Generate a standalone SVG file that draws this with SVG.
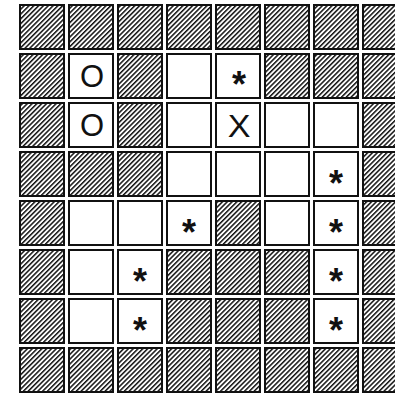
<svg xmlns="http://www.w3.org/2000/svg" width="395" height="395" viewBox="0 0 395 395">
<defs>
<pattern id="hatch" patternUnits="userSpaceOnUse" width="3.4" height="10" patternTransform="rotate(45)">
<rect width="3.4" height="10" fill="#fff"/>
<rect width="1.5" height="10" fill="#111"/>
</pattern>
</defs>
<style>
.h{fill:url(#hatch);stroke:#111;stroke-width:2}
.w{fill:#fff;stroke:#111;stroke-width:2}
.t{font-family:"Liberation Sans",Arial,sans-serif;font-size:31px;fill:#111;text-anchor:middle}
.s{font-family:"Liberation Sans",Arial,sans-serif;font-size:36px;font-weight:bold;fill:#111;text-anchor:middle}
</style>
<rect width="395" height="395" fill="#fff"/>
<g id="row0">
<rect class="h" x="20" y="5" width="44" height="44"/><rect class="h" x="69" y="5" width="44" height="44"/><rect class="h" x="118" y="5" width="44" height="44"/><rect class="h" x="167" y="5" width="44" height="44"/><rect class="h" x="216" y="5" width="44" height="44"/><rect class="h" x="265" y="5" width="44" height="44"/><rect class="h" x="314" y="5" width="44" height="44"/><rect class="h" x="363" y="5" width="44" height="44"/>
</g>
<g id="row1">
<rect class="h" x="20" y="54" width="44" height="44"/>
<g id="c1-1"><rect class="w" x="69" y="54" width="44" height="44"/><text class="t" x="92" y="87">O</text></g>
<rect class="h" x="118" y="54" width="44" height="44"/>
<rect class="w" x="167" y="54" width="44" height="44"/>
<g id="c1-4"><rect class="w" x="216" y="54" width="44" height="44"/><text class="s" x="239" y="97">*</text></g>
<rect class="h" x="265" y="54" width="44" height="44"/><rect class="h" x="314" y="54" width="44" height="44"/><rect class="h" x="363" y="54" width="44" height="44"/>
</g>
<g id="row2">
<rect class="h" x="20" y="103" width="44" height="44"/>
<g id="c2-1"><rect class="w" x="69" y="103" width="44" height="44"/><text class="t" x="92" y="136">O</text></g>
<rect class="h" x="118" y="103" width="44" height="44"/>
<rect class="w" x="167" y="103" width="44" height="44"/>
<g id="c2-4"><rect class="w" x="216" y="103" width="44" height="44"/><text class="t" transform="translate(239,137) scale(1.1,1)">X</text></g>
<rect class="w" x="265" y="103" width="44" height="44"/><rect class="w" x="314" y="103" width="44" height="44"/><rect class="h" x="363" y="103" width="44" height="44"/>
</g>
<g id="row3">
<rect class="h" x="20" y="152" width="44" height="44"/><rect class="h" x="69" y="152" width="44" height="44"/><rect class="h" x="118" y="152" width="44" height="44"/>
<rect class="w" x="167" y="152" width="44" height="44"/><rect class="w" x="216" y="152" width="44" height="44"/><rect class="w" x="265" y="152" width="44" height="44"/>
<g id="c3-6"><rect class="w" x="314" y="152" width="44" height="44"/><text class="s" x="336" y="196">*</text></g>
<rect class="h" x="363" y="152" width="44" height="44"/>
</g>
<g id="row4">
<rect class="h" x="20" y="201" width="44" height="44"/>
<rect class="w" x="69" y="201" width="44" height="44"/><rect class="w" x="118" y="201" width="44" height="44"/>
<g id="c4-3"><rect class="w" x="167" y="201" width="44" height="44"/><text class="s" x="189" y="245">*</text></g>
<rect class="h" x="216" y="201" width="44" height="44"/>
<rect class="w" x="265" y="201" width="44" height="44"/>
<g id="c4-6"><rect class="w" x="314" y="201" width="44" height="44"/><text class="s" x="336" y="245">*</text></g>
<rect class="h" x="363" y="201" width="44" height="44"/>
</g>
<g id="row5">
<rect class="h" x="20" y="250" width="44" height="44"/>
<rect class="w" x="69" y="250" width="44" height="44"/>
<g id="c5-2"><rect class="w" x="118" y="250" width="44" height="44"/><text class="s" x="140" y="294">*</text></g>
<rect class="h" x="167" y="250" width="44" height="44"/><rect class="h" x="216" y="250" width="44" height="44"/><rect class="h" x="265" y="250" width="44" height="44"/>
<g id="c5-6"><rect class="w" x="314" y="250" width="44" height="44"/><text class="s" x="336" y="294">*</text></g>
<rect class="h" x="363" y="250" width="44" height="44"/>
</g>
<g id="row6">
<rect class="h" x="20" y="299" width="44" height="44"/>
<rect class="w" x="69" y="299" width="44" height="44"/>
<g id="c6-2"><rect class="w" x="118" y="299" width="44" height="44"/><text class="s" x="140" y="343">*</text></g>
<rect class="h" x="167" y="299" width="44" height="44"/><rect class="h" x="216" y="299" width="44" height="44"/><rect class="h" x="265" y="299" width="44" height="44"/>
<g id="c6-6"><rect class="w" x="314" y="299" width="44" height="44"/><text class="s" x="336" y="343">*</text></g>
<rect class="h" x="363" y="299" width="44" height="44"/>
</g>
<g id="row7">
<rect class="h" x="20" y="348" width="44" height="44"/><rect class="h" x="69" y="348" width="44" height="44"/><rect class="h" x="118" y="348" width="44" height="44"/><rect class="h" x="167" y="348" width="44" height="44"/><rect class="h" x="216" y="348" width="44" height="44"/><rect class="h" x="265" y="348" width="44" height="44"/><rect class="h" x="314" y="348" width="44" height="44"/><rect class="h" x="363" y="348" width="44" height="44"/>
</g>
<g id="connectors"/>
</svg>
